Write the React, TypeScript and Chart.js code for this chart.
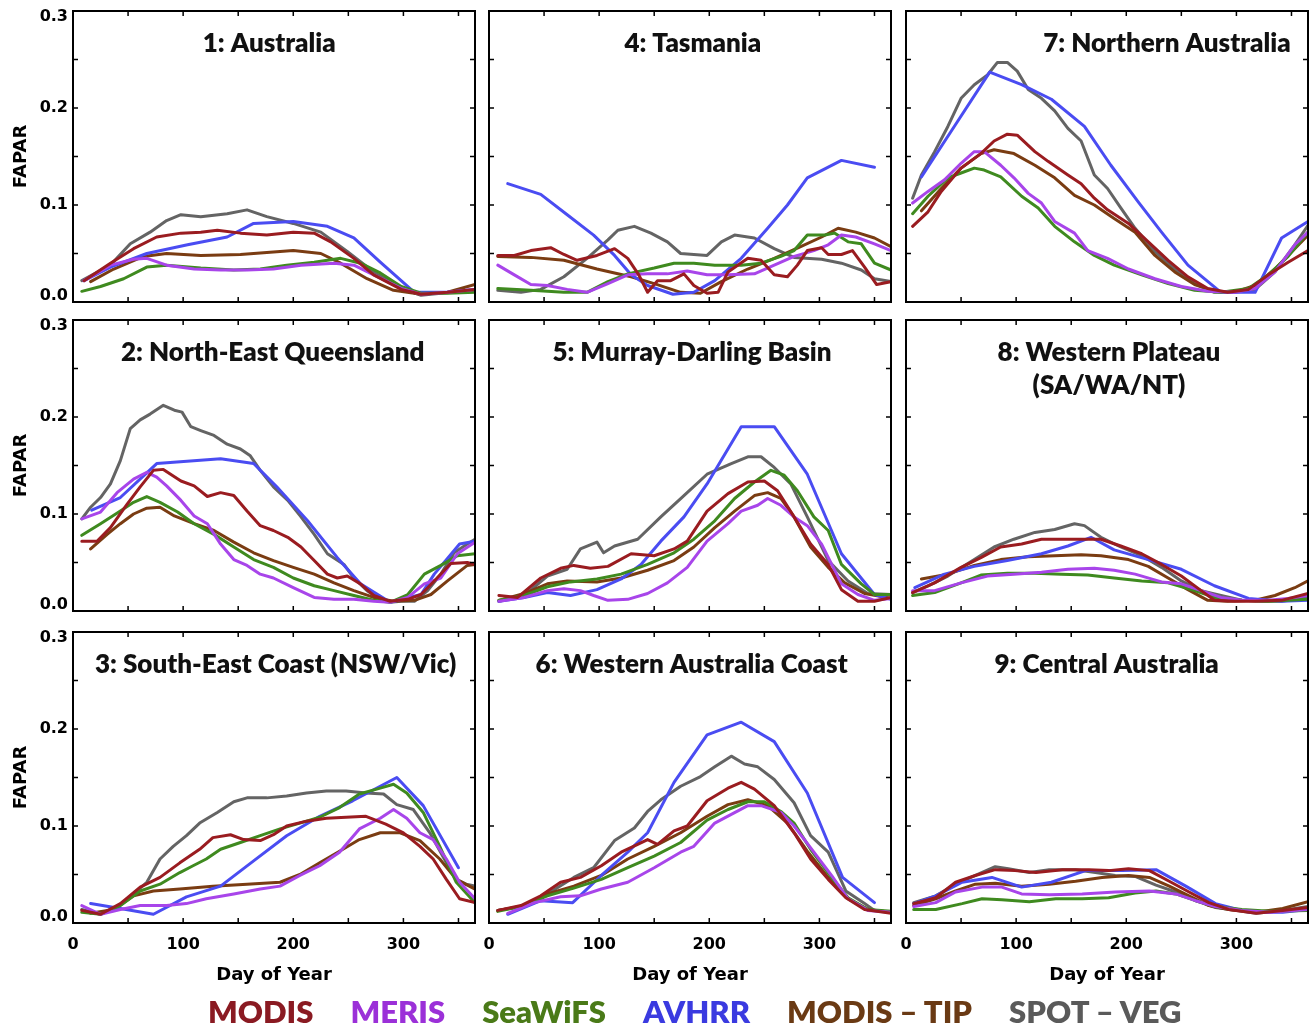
import React, { useEffect, useRef } from "react";
import { Chart, registerables } from "chart.js";

Chart.register(...registerables);

// ---------- series metadata ----------
const SERIES_NAMES = ["MODIS", "MERIS", "SeaWiFS", "AVHRR", "MODIS – TIP", "SPOT – VEG"];
const SERIES_COLORS = ["#9a1c20", "#a845ea", "#3f8a1f", "#4a4cf2", "#7a3c12", "#646464"];
const LEGEND_COLORS = ["#8a1a22", "#9b30d8", "#4a7a18", "#3a3ae0", "#6a3a14", "#5a5a5a"];

const X_TICKS = [0, 100, 200, 300];
const Y_TICKS = [0, 0.1, 0.2, 0.3];
const X_MINOR_STEP = 50;
const Y_MINOR_STEP = 0.05;
const X_MAX = 365;
const Y_MAX = 0.3;

type Pt = [number, number];

// ---------- 1: Australia ----------
const AUS_MODIS: Pt[] = [[10,.022],[34,.040],[55,.055],[76,.067],[98,.071],[116,.072],[131,.074],[152,.071],[176,.069],[200,.072],[219,.071],[234,.062],[255,.045],[273,.028],[298,.013],[316,.008],[340,.010],[365,.013]];
const AUS_MERIS: Pt[] = [[10,.022],[34,.038],[55,.044],[67,.045],[85,.038],[110,.034],[134,.033],[158,.033],[182,.034],[207,.038],[237,.040],[255,.038],[273,.028],[298,.014],[316,.008],[340,.010],[365,.013]];
const AUS_SEAWIFS: Pt[] = [[8,.011],[25,.016],[46,.024],[67,.036],[85,.038],[116,.035],[146,.033],[170,.034],[194,.038],[219,.041],[243,.045],[261,.040],[279,.030],[298,.016],[316,.009],[340,.009],[365,.010]];
const AUS_AVHRR: Pt[] = [[10,.022],[34,.036],[67,.050],[104,.059],[140,.067],[164,.081],[200,.083],[231,.078],[255,.066],[279,.041],[310,.010],[340,.010],[364,.013]];
const AUS_TIP: Pt[] = [[16,.021],[37,.034],[64,.047],[85,.050],[116,.048],[152,.049],[176,.051],[200,.053],[225,.050],[243,.040],[267,.024],[291,.012],[316,.008],[340,.010],[365,.018]];
const AUS_SPOT: Pt[] = [[8,.022],[34,.038],[52,.060],[70,.072],[85,.084],[98,.090],[116,.088],[140,.091],[158,.095],[176,.088],[200,.081],[225,.072],[249,.052],[273,.031],[298,.014],[316,.007],[334,.009],[365,.012]];

// ---------- 2: North-East Queensland ----------
const NEQ_MODIS: Pt[] = [[8,.072],[22,.072],[34,.086],[49,.110],[61,.128],[73,.145],[82,.146],[98,.134],[110,.129],[122,.118],[134,.122],[146,.119],[158,.103],[170,.088],[182,.083],[195,.076],[207,.066],[219,.052],[231,.038],[240,.034],[249,.036],[261,.028],[273,.016],[288,.010],[304,.012],[316,.017],[328,.031],[343,.049],[358,.050],[365,.048]];
const NEQ_MERIS: Pt[] = [[8,.095],[25,.102],[40,.122],[55,.136],[67,.143],[76,.138],[85,.129],[98,.114],[110,.098],[122,.090],[134,.069],[146,.053],[158,.047],[170,.038],[182,.034],[200,.024],[219,.014],[237,.012],[255,.012],[273,.010],[288,.009],[304,.014],[319,.028],[334,.034],[349,.059],[365,.071]];
const NEQ_SEAWIFS: Pt[] = [[8,.078],[25,.090],[43,.103],[55,.112],[67,.118],[79,.112],[95,.102],[110,.090],[128,.079],[146,.066],[164,.053],[182,.045],[200,.034],[219,.026],[237,.021],[255,.016],[273,.011],[288,.009],[304,.017],[319,.038],[334,.047],[349,.057],[365,.059]];
const NEQ_AVHRR: Pt[] = [[17,.104],[43,.117],[76,.152],[134,.157],[164,.152],[185,.128],[213,.093],[240,.055],[261,.028],[288,.009],[316,.017],[328,.038],[351,.069],[365,.072]];
const NEQ_TIP: Pt[] = [[16,.064],[31,.079],[43,.090],[55,.100],[67,.106],[79,.107],[92,.098],[110,.090],[128,.083],[146,.071],[164,.060],[182,.052],[200,.045],[219,.038],[237,.029],[255,.021],[273,.014],[291,.010],[310,.011],[325,.017],[340,.031],[358,.047],[365,.048]];
const NEQ_SPOT: Pt[] = [[8,.095],[16,.107],[25,.117],[34,.131],[43,.155],[52,.188],[61,.197],[70,.203],[82,.212],[92,.207],[99,.205],[107,.190],[116,.186],[128,.181],[140,.172],[152,.167],[161,.160],[170,.145],[182,.128],[195,.114],[207,.097],[219,.079],[231,.059],[246,.048],[255,.034],[267,.021],[279,.012],[288,.009],[298,.010],[310,.010],[322,.021],[334,.038],[346,.060],[358,.069],[365,.074]];

// ---------- 3: South-East Coast (NSW/Vic) ----------
const SEC_MODIS: Pt[] = [[8,.013],[25,.009],[43,.020],[61,.037],[79,.047],[97,.062],[115,.076],[127,.088],[143,.091],[155,.086],[170,.085],[182,.091],[194,.100],[212,.105],[230,.108],[248,.109],[266,.110],[284,.102],[300,.093],[315,.079],[327,.066],[339,.045],[351,.025],[365,.021]];
const SEC_MERIS: Pt[] = [[8,.018],[25,.009],[43,.014],[61,.018],[85,.018],[103,.020],[121,.025],[146,.030],[170,.035],[188,.038],[206,.049],[224,.059],[242,.073],[260,.097],[279,.108],[291,.117],[303,.108],[315,.093],[327,.086],[339,.066],[351,.042],[365,.025]];
const SEC_SEAWIFS: Pt[] = [[8,.011],[25,.009],[43,.018],[61,.033],[79,.040],[97,.052],[109,.059],[121,.066],[134,.076],[152,.083],[170,.090],[188,.097],[206,.103],[224,.109],[242,.119],[260,.133],[279,.139],[291,.143],[303,.134],[318,.114],[333,.079],[348,.042],[365,.021]];
const SEC_AVHRR: Pt[] = [[16,.020],[43,.015],[73,.009],[103,.027],[134,.038],[164,.064],[194,.090],[224,.110],[254,.126],[294,.150],[318,.121],[350,.057]];
const SEC_TIP: Pt[] = [[16,.010],[37,.014],[55,.028],[73,.033],[97,.035],[127,.038],[158,.040],[188,.042],[206,.050],[224,.062],[242,.074],[260,.086],[279,.093],[297,.093],[315,.085],[333,.066],[348,.045],[365,.035]];
const SEC_SPOT: Pt[] = [[8,.014],[25,.009],[40,.016],[55,.030],[67,.042],[79,.066],[91,.079],[103,.090],[115,.103],[131,.114],[146,.125],[158,.129],[176,.129],[194,.131],[212,.134],[230,.136],[248,.136],[266,.134],[282,.133],[294,.122],[309,.117],[324,.093],[339,.062],[348,.045],[357,.040],[365,.038]];

// ---------- 4: Tasmania ----------
const TAS_MODIS: Pt[] = [[8,.048],[23,.048],[38,.053],[56,.056],[68,.049],[80,.043],[98,.048],[114,.055],[126,.045],[136,.028],[144,.010],[153,.022],[165,.022],[177,.029],[186,.017],[198,.009],[208,.010],[217,.031],[235,.045],[247,.043],[259,.028],[271,.026],[280,.038],[289,.053],[302,.056],[308,.049],[320,.049],[330,.053],[341,.036],[352,.018],[365,.021]];
const TAS_MERIS: Pt[] = [[8,.038],[23,.028],[38,.018],[53,.017],[71,.013],[89,.010],[108,.019],[126,.028],[144,.029],[162,.029],[180,.032],[198,.028],[217,.028],[241,.029],[259,.038],[277,.047],[295,.053],[308,.059],[320,.069],[333,.067],[350,.060],[365,.053]];
const TAS_SEAWIFS: Pt[] = [[8,.014],[38,.012],[68,.010],[89,.010],[108,.021],[126,.029],[150,.035],[168,.040],[186,.040],[205,.038],[229,.038],[247,.040],[265,.047],[277,.053],[289,.069],[305,.069],[314,.071],[326,.062],[338,.060],[350,.040],[365,.033]];
const TAS_AVHRR: Pt[] = [[17,.122],[47,.111],[71,.090],[95,.069],[114,.048],[129,.028],[144,.017],[167,.008],[186,.010],[205,.022],[229,.045],[253,.076],[271,.100],[289,.128],[320,.146],[350,.139]];
const TAS_TIP: Pt[] = [[8,.047],[38,.046],[68,.043],[98,.034],[129,.026],[150,.019],[174,.010],[192,.009],[211,.021],[235,.034],[259,.045],[283,.057],[302,.067],[317,.076],[333,.072],[350,.066],[365,.057]];
const TAS_SPOT: Pt[] = [[8,.012],[29,.010],[47,.013],[68,.026],[89,.045],[108,.064],[117,.074],[132,.078],[147,.071],[162,.062],[174,.050],[198,.048],[211,.062],[223,.069],[241,.066],[259,.055],[277,.046],[302,.044],[320,.040],[338,.033],[350,.024],[365,.021]];

// ---------- 5: Murray-Darling Basin ----------
const MDB_MODIS: Pt[] = [[9,.016],[26,.014],[47,.034],[65,.044],[77,.047],[92,.044],[108,.046],[129,.059],[150,.057],[168,.064],[180,.072],[198,.103],[217,.121],[235,.133],[250,.134],[262,.124],[277,.097],[292,.069],[308,.048],[320,.022],[335,.010],[350,.010],[365,.014]];
const MDB_MERIS: Pt[] = [[9,.010],[32,.014],[53,.021],[68,.023],[83,.021],[95,.016],[108,.011],[126,.012],[144,.018],[162,.029],[180,.045],[198,.072],[217,.090],[229,.103],[244,.109],[253,.116],[265,.109],[277,.097],[289,.088],[302,.069],[320,.028],[335,.017],[350,.011],[365,.013]];
const MDB_SEAWIFS: Pt[] = [[9,.011],[32,.016],[53,.025],[74,.030],[98,.033],[120,.038],[144,.048],[168,.060],[186,.074],[205,.093],[223,.116],[241,.133],[256,.145],[268,.140],[280,.124],[295,.097],[308,.083],[320,.048],[338,.028],[350,.017],[365,.017]];
const MDB_AVHRR: Pt[] = [[9,.010],[32,.014],[53,.019],[74,.016],[98,.022],[120,.033],[138,.048],[156,.072],[177,.097],[198,.131],[229,.190],[259,.190],[289,.141],[320,.059],[350,.017],[365,.012]];
const MDB_TIP: Pt[] = [[9,.011],[32,.018],[53,.028],[71,.031],[98,.030],[120,.034],[144,.042],[168,.052],[186,.066],[205,.086],[223,.103],[241,.119],[253,.122],[265,.116],[277,.097],[292,.066],[308,.045],[323,.029],[341,.018],[365,.013]];
const MDB_SPOT: Pt[] = [[9,.010],[32,.016],[53,.036],[71,.043],[83,.064],[98,.071],[104,.060],[114,.067],[135,.074],[156,.097],[177,.119],[198,.141],[220,.152],[235,.159],[247,.159],[259,.148],[274,.131],[289,.097],[308,.052],[326,.031],[344,.018],[365,.017]];

// ---------- 6: Western Australia Coast ----------
const WAC_MODIS: Pt[] = [[8,.013],[29,.018],[47,.028],[65,.042],[83,.047],[102,.059],[120,.073],[135,.081],[144,.086],[153,.081],[168,.095],[180,.100],[198,.126],[217,.139],[229,.145],[241,.138],[259,.121],[277,.093],[292,.066],[308,.045],[324,.026],[341,.014],[365,.010]];
const WAC_MERIS: Pt[] = [[17,.010],[41,.021],[65,.027],[83,.028],[102,.035],[126,.042],[150,.057],[174,.073],[186,.079],[205,.103],[220,.112],[235,.121],[247,.121],[265,.114],[277,.100],[295,.073],[311,.049],[326,.025],[344,.013],[365,.011]];
const WAC_SEAWIFS: Pt[] = [[8,.012],[29,.017],[53,.028],[77,.036],[102,.045],[126,.057],[150,.069],[174,.083],[198,.106],[217,.117],[235,.125],[250,.125],[265,.115],[277,.103],[292,.076],[311,.047],[326,.026],[344,.014],[365,.012]];
const WAC_AVHRR: Pt[] = [[17,.009],[47,.023],[76,.021],[102,.049],[126,.073],[144,.093],[168,.145],[198,.194],[229,.207],[259,.187],[289,.134],[321,.047],[350,.021]];
const WAC_TIP: Pt[] = [[8,.013],[29,.017],[53,.030],[77,.038],[102,.049],[126,.066],[150,.079],[174,.093],[198,.110],[217,.122],[235,.127],[253,.121],[271,.103],[289,.074],[308,.047],[326,.025],[344,.014],[365,.011]];
const WAC_SPOT: Pt[] = [[8,.013],[29,.017],[53,.030],[77,.047],[95,.057],[114,.085],[132,.098],[144,.115],[156,.127],[174,.141],[192,.151],[205,.161],[220,.172],[232,.164],[244,.161],[259,.148],[277,.124],[292,.090],[308,.073],[324,.033],[341,.020],[350,.013],[365,.011]];

// ---------- 7: Northern Australia ----------
const NTH_MODIS: Pt[] = [[6,.078],[20,.093],[32,.114],[50,.138],[68,.153],[80,.166],[92,.173],[101,.172],[117,.155],[129,.145],[147,.131],[159,.122],[171,.107],[183,.095],[202,.081],[220,.062],[238,.043],[256,.026],[274,.014],[292,.010],[311,.013],[329,.028],[347,.041],[365,.053]];
const NTH_MERIS: Pt[] = [[6,.102],[20,.114],[35,.126],[50,.143],[62,.155],[71,.155],[86,.141],[98,.128],[111,.112],[123,.102],[135,.083],[153,.071],[165,.053],[183,.045],[202,.034],[226,.024],[250,.016],[274,.011],[298,.010],[317,.014],[335,.031],[353,.059],[365,.072]];
const NTH_SEAWIFS: Pt[] = [[6,.091],[20,.109],[38,.128],[50,.133],[62,.138],[71,.136],[86,.129],[105,.109],[120,.097],[135,.078],[153,.062],[171,.048],[189,.038],[214,.028],[238,.019],[262,.012],[286,.010],[311,.014],[329,.028],[347,.047],[365,.072]];
const NTH_AVHRR: Pt[] = [[14,.129],[45,.183],[76,.237],[105,.224],[132,.209],[162,.181],[186,.141],[211,.103],[232,.072],[256,.038],[286,.010],[317,.010],[341,.066],[365,.083]];
const NTH_TIP: Pt[] = [[14,.094],[32,.117],[50,.138],[68,.153],[80,.157],[98,.153],[117,.141],[135,.128],[153,.110],[171,.100],[189,.086],[208,.072],[226,.048],[244,.031],[262,.018],[280,.011],[298,.010],[317,.017],[335,.034],[353,.055],[365,.069]];
const NTH_SPOT: Pt[] = [[6,.107],[14,.131],[26,.155],[38,.181],[50,.210],[62,.224],[74,.234],[83,.247],[92,.247],[101,.238],[111,.219],[123,.210],[135,.197],[147,.179],[159,.166],[171,.131],[183,.117],[195,.097],[208,.076],[226,.052],[244,.034],[262,.019],[280,.010],[298,.010],[317,.013],[335,.031],[353,.059],[365,.079]];

// ---------- 8: Western Plateau ----------
const WPL_MODIS: Pt[] = [[6,.019],[26,.029],[50,.045],[68,.055],[86,.066],[105,.069],[123,.074],[141,.074],[159,.074],[177,.074],[195,.067],[214,.059],[232,.048],[250,.036],[268,.021],[280,.011],[298,.010],[317,.010],[341,.011],[365,.018]];
const WPL_MERIS: Pt[] = [[6,.021],[26,.021],[50,.029],[74,.036],[98,.038],[123,.040],[147,.043],[171,.044],[189,.042],[208,.038],[232,.030],[250,.028],[268,.021],[286,.014],[305,.011],[329,.011],[347,.013],[365,.016]];
const WPL_SEAWIFS: Pt[] = [[6,.016],[26,.019],[50,.029],[68,.037],[92,.039],[117,.039],[141,.038],[165,.037],[189,.034],[214,.031],[238,.029],[262,.021],[280,.014],[305,.011],[329,.010],[365,.012]];
const WPL_AVHRR: Pt[] = [[8,.024],[35,.038],[62,.046],[92,.052],[123,.059],[147,.067],[168,.076],[189,.063],[220,.053],[250,.043],[280,.026],[311,.013],[341,.010],[365,.011]];
const WPL_TIP: Pt[] = [[14,.033],[38,.038],[62,.047],[86,.053],[111,.056],[135,.057],[159,.058],[177,.057],[202,.053],[220,.046],[238,.034],[256,.022],[274,.011],[292,.010],[317,.011],[335,.016],[353,.024],[365,.031]];
const WPL_SPOT: Pt[] = [[6,.019],[20,.026],[38,.036],[62,.053],[80,.066],[98,.074],[117,.081],[135,.084],[153,.090],[162,.088],[177,.076],[195,.066],[214,.057],[232,.045],[250,.031],[268,.021],[286,.016],[305,.011],[323,.010],[341,.010],[365,.014]];

// ---------- 9: Central Australia ----------
const CEN_MODIS: Pt[] = [[7,.020],[27,.026],[45,.042],[63,.049],[81,.055],[99,.054],[118,.052],[142,.055],[166,.055],[184,.054],[202,.056],[221,.054],[239,.043],[257,.032],[275,.021],[293,.014],[318,.010],[342,.013],[365,.016]];
const CEN_MERIS: Pt[] = [[7,.017],[27,.021],[45,.032],[69,.037],[87,.037],[105,.030],[130,.029],[160,.030],[190,.032],[221,.033],[245,.030],[263,.023],[281,.017],[305,.013],[330,.011],[365,.014]];
const CEN_SEAWIFS: Pt[] = [[7,.014],[27,.014],[51,.020],[69,.025],[87,.024],[112,.022],[136,.025],[160,.025],[184,.026],[208,.031],[227,.033],[245,.030],[263,.023],[281,.017],[305,.014],[330,.012],[365,.013]];
const CEN_AVHRR: Pt[] = [[7,.020],[27,.028],[51,.042],[78,.047],[105,.037],[132,.042],[163,.054],[196,.054],[227,.055],[254,.038],[281,.020],[312,.011],[342,.011],[365,.014]];
const CEN_TIP: Pt[] = [[7,.018],[27,.025],[45,.033],[63,.040],[81,.041],[105,.038],[130,.040],[154,.043],[178,.047],[202,.049],[221,.047],[239,.038],[257,.028],[275,.018],[293,.014],[318,.011],[342,.015],[365,.022]];
const CEN_SPOT: Pt[] = [[7,.021],[27,.028],[45,.040],[63,.049],[81,.058],[93,.056],[112,.052],[130,.055],[154,.055],[172,.052],[190,.049],[208,.048],[227,.039],[245,.032],[263,.023],[281,.016],[299,.013],[318,.010],[342,.013],[365,.017]];

// ---------- panels (grid order, row-major) ----------
const PANEL_TITLES: string[][] = [
  ["1: Australia"], ["4: Tasmania"], ["7: Northern Australia"],
  ["2: North-East Queensland"], ["5: Murray-Darling Basin"], ["8: Western Plateau", "(SA/WA/NT)"],
  ["3: South-East Coast (NSW/Vic)"], ["6: Western Australia Coast"], ["9: Central Australia"],
];
const PANEL_SERIES: Pt[][][] = [
  [AUS_MODIS, AUS_MERIS, AUS_SEAWIFS, AUS_AVHRR, AUS_TIP, AUS_SPOT],
  [TAS_MODIS, TAS_MERIS, TAS_SEAWIFS, TAS_AVHRR, TAS_TIP, TAS_SPOT],
  [NTH_MODIS, NTH_MERIS, NTH_SEAWIFS, NTH_AVHRR, NTH_TIP, NTH_SPOT],
  [NEQ_MODIS, NEQ_MERIS, NEQ_SEAWIFS, NEQ_AVHRR, NEQ_TIP, NEQ_SPOT],
  [MDB_MODIS, MDB_MERIS, MDB_SEAWIFS, MDB_AVHRR, MDB_TIP, MDB_SPOT],
  [WPL_MODIS, WPL_MERIS, WPL_SEAWIFS, WPL_AVHRR, WPL_TIP, WPL_SPOT],
  [SEC_MODIS, SEC_MERIS, SEC_SEAWIFS, SEC_AVHRR, SEC_TIP, SEC_SPOT],
  [WAC_MODIS, WAC_MERIS, WAC_SEAWIFS, WAC_AVHRR, WAC_TIP, WAC_SPOT],
  [CEN_MODIS, CEN_MERIS, CEN_SEAWIFS, CEN_AVHRR, CEN_TIP, CEN_SPOT],
];

// ---------- layout ----------
const COL_LEFT = [73, 489, 906];
const ROW_TOP = [11, 320, 632];
const PLOT_W = 402;
const PLOT_H = 291;
const TITLE_ANCHOR = [0.488, 0.507, 0.649, 0.497, 0.505, 0.505, 0.504, 0.504, 0.499];

const TICK_FONT = "'DejaVu Sans', 'Liberation Sans', sans-serif";
const TITLE_FONT = "Lato, 'Open Sans', sans-serif";

const framePlugin = {
  id: "frameAndTitle",
  afterDatasetsDraw(chart: any, _args: any, opts: any) {
    const { ctx, chartArea } = chart;
    const { left, top, right, bottom } = chartArea;
    const xs = chart.scales.x;
    const ys = chart.scales.y;
    ctx.save();
    ctx.strokeStyle = "#000";
    ctx.lineWidth = 2;
    ctx.strokeRect(left, top, right - left, bottom - top);
    ctx.lineWidth = 1.5;
    const tl = 5;
    ctx.beginPath();
    for (let d = X_MINOR_STEP; d < X_MAX; d += X_MINOR_STEP) {
      const px = xs.getPixelForValue(d);
      ctx.moveTo(px, bottom); ctx.lineTo(px, bottom - tl);
      ctx.moveTo(px, top); ctx.lineTo(px, top + tl);
    }
    for (let k = 1; k * Y_MINOR_STEP < Y_MAX - 1e-9; k++) {
      const py = ys.getPixelForValue(k * Y_MINOR_STEP);
      ctx.moveTo(left, py); ctx.lineTo(left + tl, py);
      ctx.moveTo(right, py); ctx.lineTo(right - tl, py);
    }
    ctx.stroke();
    // panel title
    ctx.fillStyle = "#111";
    ctx.font = `800 26px ${TITLE_FONT}`;
    ctx.textAlign = "center";
    ctx.textBaseline = "alphabetic";
    const cx = left + opts.anchor * (right - left);
    (opts.lines as string[]).forEach((t, i) => ctx.fillText(t, cx, top + 41 + i * 33));
    ctx.restore();
  },
};

function yLabel(v: number): string | string[] {
  const s = v.toFixed(1);
  if (v >= Y_MAX - 1e-9) return ["", s]; // edge labels sit just inside the frame
  if (v <= 1e-9) return [s, ""];
  return s;
}

function Panel({ index }: { index: number }) {
  const ref = useRef<HTMLCanvasElement | null>(null);
  const row = Math.floor(index / 3);
  const col = index % 3;
  const L = col === 0 ? COL_LEFT[0] : 14;
  const T = 10;
  const R = col === 2 ? 3 : 8;
  const B = row === 2 ? 70 : 8;
  const W = L + PLOT_W + R;
  const H = T + PLOT_H + B;
  const canvasLeft = COL_LEFT[col] - L;
  const canvasTop = ROW_TOP[row] - T;

  useEffect(() => {
    if (!ref.current) return;
    const series = PANEL_SERIES[index];
    const chart = new Chart(ref.current, {
      type: "line",
      data: {
        datasets: series.map((pts, i) => ({
          label: SERIES_NAMES[i],
          data: pts.map(([x, y]) => ({ x, y })),
          borderColor: SERIES_COLORS[i],
          backgroundColor: SERIES_COLORS[i],
          borderWidth: 3,
          pointRadius: 0,
          tension: 0,
          fill: false,
          borderJoinStyle: "round",
          borderCapStyle: "round",
        })),
      },
      options: {
        responsive: false,
        animation: false,
        events: [],
        layout: { padding: { left: 0, top: T, right: R, bottom: 0 } },
        plugins: {
          legend: { display: false },
          tooltip: { enabled: false },
          frameAndTitle: { anchor: TITLE_ANCHOR[index], lines: PANEL_TITLES[index] },
        } as any,
        scales: {
          x: {
            type: "linear",
            min: 0,
            max: X_MAX,
            afterBuildTicks: (s: any) => { s.ticks = X_TICKS.map((v) => ({ value: v })); },
            afterFit: (s: any) => { s.height = B; s.paddingLeft = 0; s.paddingRight = 0; },
            grid: { display: false, drawTicks: false },
            border: { display: false },
            ticks: {
              display: row === 2,
              padding: 12,
              maxRotation: 0,
              autoSkip: false,
              color: "#000",
              font: { family: TICK_FONT, size: 16, weight: "bold" },
              callback: (v: any) => String(v),
            },
            title: {
              display: row === 2,
              text: "Day of Year",
              color: "#000",
              font: { family: TICK_FONT, size: 18, weight: "bold" },
              padding: { top: 0, bottom: 7 },
            },
          },
          y: {
            type: "linear",
            min: 0,
            max: Y_MAX,
            afterBuildTicks: (s: any) => { s.ticks = Y_TICKS.map((v) => ({ value: v })); },
            afterFit: (s: any) => { s.width = L; s.paddingTop = 0; s.paddingBottom = 0; },
            grid: { display: false, drawTicks: false },
            border: { display: false },
            ticks: {
              display: col === 0,
              padding: 5,
              color: "#000",
              font: { family: TICK_FONT, size: 16, weight: "bold", lineHeight: 0.75 },
              callback: (v: any) => yLabel(Number(v)),
            },
            title: {
              display: col === 0,
              text: "FAPAR",
              color: "#000",
              font: { family: TICK_FONT, size: 18, weight: "bold" },
              padding: { top: 11, bottom: 0 },
            },
          },
        },
      } as any,
      plugins: [framePlugin as any],
    });
    return () => chart.destroy();
  }, [index]);

  return (
    <canvas
      ref={ref}
      width={W}
      height={H}
      style={{ position: "absolute", left: canvasLeft, top: canvasTop, width: W, height: H }}
    />
  );
}

export default function App() {
  return (
    <div
      style={{
        position: "absolute",
        left: 0,
        top: 0,
        width: 1311,
        height: 1033,
        background: "#fff",
        overflow: "hidden",
      }}
    >
      {PANEL_TITLES.map((_, i) => (
        <Panel key={i} index={i} />
      ))}
      <div
        style={{
          position: "absolute",
          left: 208,
          top: 996,
          display: "flex",
          gap: 37,
          fontFamily: TITLE_FONT,
          fontWeight: 800,
          fontSize: 31,
          lineHeight: "31px",
          whiteSpace: "nowrap",
        }}
      >
        {SERIES_NAMES.map((n, i) => (
          <span key={n} style={{ color: LEGEND_COLORS[i] }}>{n}</span>
        ))}
      </div>
    </div>
  );
}
